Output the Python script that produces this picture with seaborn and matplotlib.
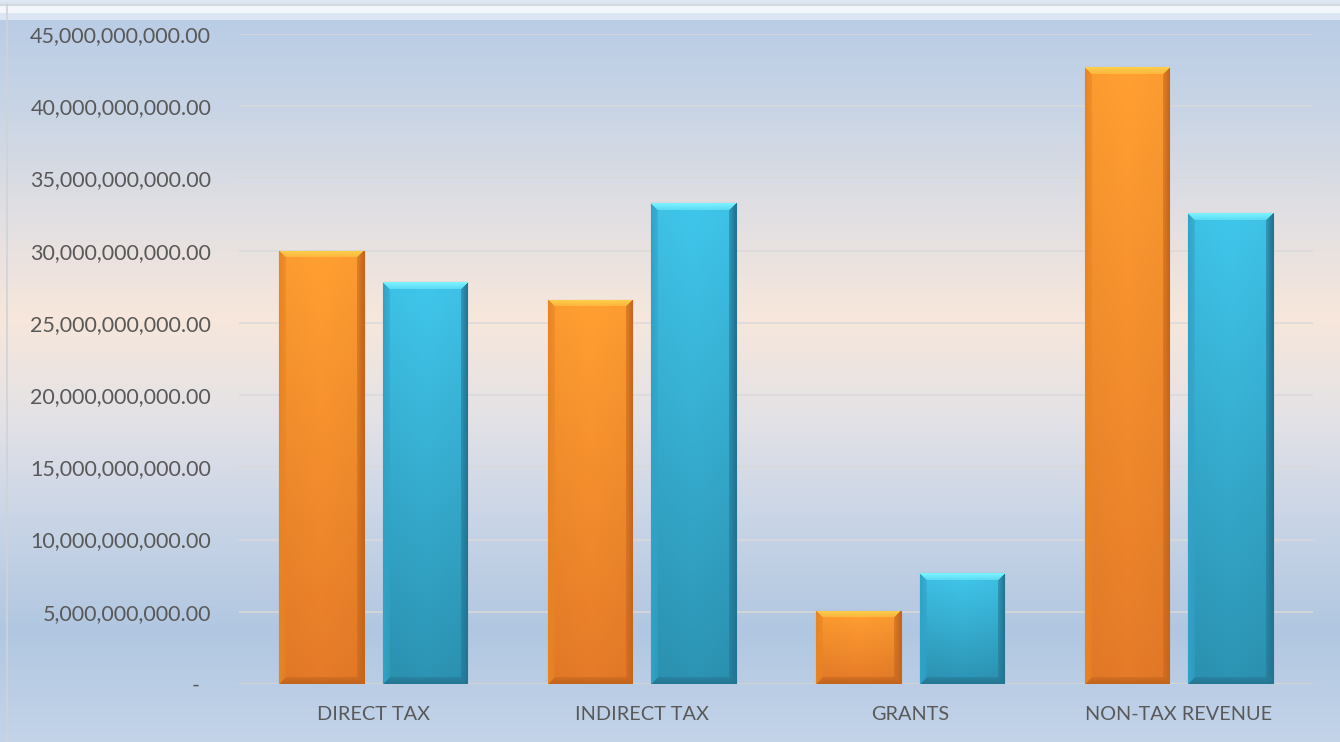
import numpy as np
import pandas as pd
import matplotlib
matplotlib.use("Agg")
import matplotlib.pyplot as plt
from matplotlib.colors import to_rgb
from matplotlib.ticker import FuncFormatter
import seaborn as sns

# ---- data ----
categories = ["DIRECT TAX", "INDIRECT TAX", "GRANTS", "NON-TAX REVENUE"]
series_names = ["Series 1", "Series 2"]
series1_values = [30.0e9, 26.6e9, 5.07e9, 42.7e9]
series2_values = [27.8e9, 33.3e9, 7.67e9, 32.6e9]
y_ticks = [0, 5e9, 10e9, 15e9, 20e9, 25e9, 30e9, 35e9, 40e9, 45e9]

df = pd.DataFrame({
    "category": categories * 2,
    "series": [series_names[0]] * 4 + [series_names[1]] * 4,
    "value": series1_values + series2_values,
})

sns.set_theme(style="white")
plt.rcParams["font.family"] = ["Lato", "DejaVu Sans"]

W, H = 1340, 742
fig = plt.figure(figsize=(W / 100, H / 100), dpi=100)

# ---- background gradient ----
bg = fig.add_axes([0, 0, 1, 1], zorder=-10)
stops = [(0.0, "#dfe8f3"), (0.027, "#b9cde5"), (0.15, "#c9d5e5"), (0.30, "#e3e0e2"),
         (0.43, "#f7e7db"), (0.56, "#e4e2e6"), (0.70, "#c9d5e6"), (0.85, "#b1c7e1"),
         (1.0, "#c3d4e9")]
ys = np.linspace(0, 1, H)
pos = [s[0] for s in stops]
cols = np.array([to_rgb(s[1]) for s in stops])
grad = np.stack([np.interp(ys, pos, cols[:, k]) for k in range(3)], axis=-1)
img = np.repeat(grad[:, None, :], 4, axis=1)
img[4:6, :, :] = to_rgb("#d6d9dd")
img[6:13, :, :] = to_rgb("#f3f7fb")
img[13:20, :, :] = to_rgb("#dce6f2")
bg.imshow(img, aspect="auto", extent=[0, 1, 0, 1], origin="upper")
bg.plot([7 / W, 7 / W], [0, 1 - 4 / H], color="#cfd3d8", lw=1.2)
bg.set_xlim(0, 1)
bg.set_ylim(0, 1)
bg.axis("off")

# ---- main axes ----
ax = fig.add_axes([239 / W, 1 - 684 / H, (1313 - 239) / W, (684 - 34) / H])
ax.patch.set_alpha(0)

orange = "#f7922b"
blue = "#37b3d8"
sns.barplot(data=df, x="category", y="value", hue="series", palette=[orange, blue],
            width=0.77, gap=0.18, legend=False, ax=ax, zorder=3, saturation=1)

ax.set_ylim(0, 45e9)
ax.set_xlim(-0.5, 3.5)
ax.set_yticks(y_ticks)
ax.yaxis.set_major_formatter(FuncFormatter(lambda v, p: "-  " if v == 0 else f"{v:,.2f}"))
ax.grid(axis="y", color="#d9d9d9", lw=1.1, zorder=0)
ax.set_axisbelow(True)
for s in ax.spines.values():
    s.set_visible(False)
ax.axhline(0, color="#d3d3d3", lw=1.6, zorder=2)
ax.tick_params(axis="y", length=0, pad=20, labelsize=15.5, labelcolor="#595959")
ax.tick_params(axis="x", length=0, pad=16, labelsize=14.3, labelcolor="#595959")
ax.set_xlabel("")
ax.set_ylabel("")

# ---- bevel shading for each bar ----
styles = {
    orange: dict(top=("#fa9b30", "#df7727"), hi="#ffd04c", left="#e88423", right="#c4661c",
                 bot="#c2641d"),
    blue: dict(top=("#3ec1e5", "#2b8fae"), hi="#7af3ff", left="#30a3c7", right="#237492",
               bot="#247692"),
}
fig.canvas.draw()
for bar in list(ax.patches):
    fc = bar.get_facecolor()[:3]
    key = orange if np.allclose(fc, to_rgb(orange), atol=0.02) else blue
    st = styles[key]
    x0, w, h = bar.get_x(), bar.get_width(), bar.get_height()
    if h <= 0:
        continue
    p0 = ax.transData.transform((x0, 0))
    p1 = ax.transData.transform((x0 + w, h))
    pw = max(int(round(p1[0] - p0[0])), 2)
    ph = max(int(round(p1[1] - p0[1])), 2)
    ii, jj = np.mgrid[0:ph, 0:pw]
    t = ii / max(ph - 1, 1)
    c_top = np.array(to_rgb(st["top"][0]))
    c_bot = np.array(to_rgb(st["top"][1]))
    arr = c_top[None, None, :] * (1 - t[..., None]) + c_bot[None, None, :] * t[..., None]
    xc = np.abs(jj / max(pw - 1, 1) - 0.5) * 2
    arr = arr * (1.0 + 0.03 * (1 - xc[..., None]))
    b = 7
    dt, dl, dr, db = ii, jj, pw - 1 - jj, ph - 1 - ii
    m = np.minimum(np.minimum(dt, db), np.minimum(dl, dr))
    edge = m < b
    for name, d in (("bot", db), ("left", dl), ("right", dr), ("hi", dt)):
        sel = edge & (d == m)
        col = np.array(to_rgb(st[name]))
        f = (1 - d / b)[..., None] * 0.55 + 0.45
        blend = arr * (1 - f) + col[None, None, :] * f
        arr = np.where(sel[..., None], blend, arr)
    arr = np.clip(arr, 0, 1)
    im = ax.imshow(arr, extent=[x0, x0 + w, 0, h], aspect="auto", origin="upper",
                   interpolation="bilinear", zorder=4)
    im.set_clip_path(bar)
    bar.set_edgecolor(st["right"])
    bar.set_linewidth(0.8)
    ax.plot([x0, x0 + w], [0, 0], color="#8a9bb0", lw=1.5, alpha=0.5, zorder=2.5,
            solid_capstyle="butt")

ax.set_xlim(-0.5, 3.5)
ax.set_ylim(0, 45e9)
fig.savefig("out.png", dpi=100)
